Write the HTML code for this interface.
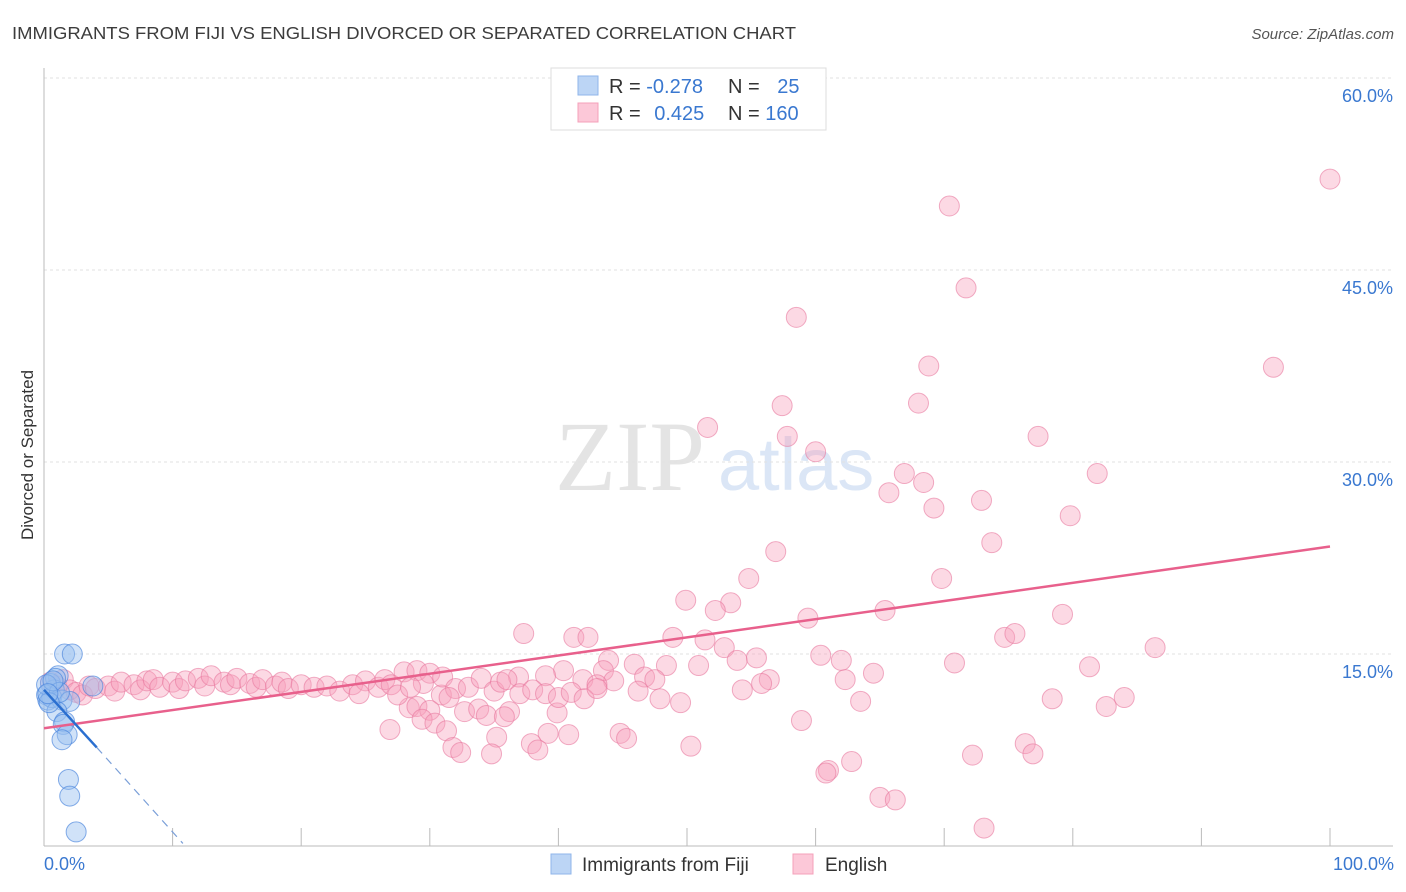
<!DOCTYPE html>
<html><head><meta charset="utf-8"><style>
body{margin:0;background:#fff;font-family:"Liberation Sans",sans-serif;}
svg{display:block}
</style></head><body>
<svg id="chart" width="1406" height="892">
<text x="12" y="39" font-size="17.5" fill="#3c3c3c" textLength="784" lengthAdjust="spacingAndGlyphs">IMMIGRANTS FROM FIJI VS ENGLISH DIVORCED OR SEPARATED CORRELATION CHART</text>
<text x="1394" y="39" font-size="15" fill="#555" font-style="italic" text-anchor="end">Source: ZipAtlas.com</text>
<text x="555" y="490" font-size="100" fill="#e4e4e4" font-family="Liberation Serif,serif">ZIP</text>
<text x="718" y="490" font-size="74" fill="#dbe6f6">atlas</text>
<text transform="translate(33,455) rotate(-90)" font-size="17" fill="#333" text-anchor="middle">Divorced or Separated</text>
<g id="grid"></g><g id="pts"></g><g id="lines"></g>
<g>
<rect x="551" y="68" width="275" height="62" fill="#fff" stroke="#ddd"/>
<rect x="578" y="76" width="20" height="19" fill="#bcd5f5" stroke="#8fb5ea"/>
<rect x="578" y="103" width="20" height="19" fill="#fcc8d8" stroke="#f4a0ba"/>
<text x="609" y="93" font-size="20" fill="#333">R = <tspan fill="#3a78d0">-0.278</tspan></text>
<text x="728" y="93" font-size="20" fill="#333">N = <tspan fill="#3a78d0" dx="12">25</tspan></text>
<text x="609" y="120" font-size="20" fill="#333">R = <tspan fill="#3a78d0" dx="8">0.425</tspan></text>
<text x="728" y="120" font-size="20" fill="#333">N = <tspan fill="#3a78d0">160</tspan></text>
</g>
<g>
<rect x="551" y="854" width="20" height="20" fill="#bcd5f5" stroke="#8fb5ea"/>
<text x="582" y="871" font-size="19" fill="#333">Immigrants from Fiji</text>
<rect x="793" y="854" width="20" height="20" fill="#fcc8d8" stroke="#f4a0ba"/>
<text x="825" y="871" font-size="19" fill="#333">English</text>
</g>
</svg>
<script>
const yTicks=[15,30,45,60];
const yTickLabels=["15.0%","30.0%","45.0%","60.0%"];
const xTickValues=[0,10,20,30,40,50,60,70,80,90,100];
const xEndLabels=["0.0%","100.0%"];
const fijiX=[1.6,2.2,1.1,0.5,0.8,0.2,0.3,0.6,1.4,2.0,1.0,1.6,1.5,1.8,1.4,1.9,2.0,2.5,3.8,0.9,0.2,1.2,0.4,0.7,0.3];
const fijiY=[15.0,15.0,13.3,12.7,12.2,11.8,11.4,11.6,11.4,11.3,10.5,9.7,9.5,8.7,8.3,5.2,3.9,1.1,12.5,13.1,12.6,12.0,11.2,12.9,11.9];
const engX=[100,70.4,71.7,58.5,68.8,95.6,68.0,57.4,51.6,57.8,77.3,60.0,66.9,81.9,68.4,65.7,72.9,69.2,79.8,73.7,56.9,54.8,69.8,49.9,53.4,52.2,65.4,59.4,79.2,37.3,41.2,42.3,43.9,48.9,51.4,52.9,74.7,75.5,86.4,60.4,62.0,53.9,55.4,45.9,48.4,50.9,40.4,70.8,81.3,64.5,36.9,39.0,41.9,43.5,44.3,46.7,47.5,56.4,62.3,43.0,46.2,54.3,55.8,47.9,49.5,63.5,78.4,84.0,82.6,30.9,28.4,29.0,30.0,32.7,33.8,34.4,36.2,35.8,39.9,29.4,30.4,58.9,26.9,31.3,35.2,39.2,40.8,44.8,45.3,37.9,31.8,32.4,34.8,38.4,50.3,76.3,76.9,72.2,62.8,61.0,60.8,65.0,66.2,73.1,
0.5,1,1.5,2,2.5,3,3.5,4,5,5.5,6,7,7.5,8,8.5,9,10,10.5,11,12,12.5,13,14,14.5,15,16,16.5,17,18,18.5,19,20,21,22,23,24,25,26,26.5,27,28,29,30,29.5,31,32,33,34,35,35.5,36,37,38,39,40,41,42,43,27.5,28.5,31.5,24.5];
const engY=[52.1,50.0,43.6,41.3,37.5,37.4,34.6,34.4,32.7,32.0,32.0,30.8,29.1,29.1,28.4,27.6,27.0,26.4,25.8,23.7,23.0,20.9,20.9,19.2,19.0,18.4,18.4,17.8,18.1,16.6,16.3,16.3,14.5,16.3,16.1,15.5,16.3,16.6,15.5,14.9,14.5,14.5,14.7,14.2,14.1,14.1,13.7,14.3,14.0,13.5,13.2,13.3,13.0,13.7,12.9,13.2,13.0,13.0,13.0,12.6,12.1,12.2,12.7,11.5,11.2,11.3,11.5,11.6,10.9,11.8,10.8,10.9,10.6,10.5,10.7,10.2,10.5,10.1,10.4,9.9,9.6,9.8,9.1,9.0,8.5,8.8,8.7,8.8,8.4,8.0,7.7,7.3,7.2,7.5,7.8,8.0,7.2,7.1,6.6,5.9,5.7,3.8,3.6,1.4,
12.8,12.5,13,12.2,12.0,11.8,12.5,12.3,12.5,12.1,12.8,12.6,12.2,12.9,13.0,12.4,12.8,12.3,12.9,13.1,12.5,13.3,12.8,12.6,13.1,12.7,12.4,13.0,12.5,12.8,12.3,12.6,12.4,12.5,12.1,12.6,12.9,12.4,13.0,12.6,13.6,13.7,13.5,12.7,13.2,12.3,12.4,13.1,12.1,12.8,13.0,11.9,12.2,11.9,11.6,12.0,11.5,12.3,11.8,12.4,11.6,11.9];
const fijiTrend=[0,12.2,4.1,7.7];
const fijiDash=[4.1,7.7,10.8,0.2];
const engTrend=[0,9.2,100,23.4];
const X0=44,XS=12.86,Y0=846,YS=12.8;
const sx=v=>X0+v*XS, sy=v=>Y0-v*YS;
const NS="http://www.w3.org/2000/svg";
function mk(tag,attrs,parent){const e=document.createElementNS(NS,tag);for(const k in attrs)e.setAttribute(k,attrs[k]);parent.appendChild(e);return e;}
const grid=document.getElementById('grid'),pts=document.getElementById('pts'),lines=document.getElementById('lines');
yTicks.forEach((t,i)=>{
 const l=mk('line',{x1:44,x2:1393,y1:sy(t),y2:sy(t),stroke:'#e2e2e2','stroke-dasharray':'3,3'},grid);
 
 
 const tx=mk('text',{x:1393,y:sy(t)+24,'font-size':18,fill:'#3a78d0','text-anchor':'end'},grid);
 tx.textContent=yTickLabels[i];
 
 
});
const ax=mk('line',{x1:44,x2:44,y1:68,y2:846,stroke:'#bbb'},grid);


const bx=mk('line',{x1:44,x2:1393,y1:846,y2:846,stroke:'#bbb'},grid);


xTickValues.forEach(v=>{
 const l=mk('line',{x1:sx(v),x2:sx(v),y1:828,y2:846,stroke:'#bbb'},grid);
 
 
});
const xl0=mk('text',{x:44,y:870,'font-size':18,fill:'#3a78d0'},grid);xl0.textContent=xEndLabels[0];


const xl1=mk('text',{x:1394,y:870,'font-size':18,fill:'#3a78d0','text-anchor':'end'},grid);xl1.textContent=xEndLabels[1];


engX.forEach((x,i)=>{
 const c=mk('circle',{cx:sx(x),cy:sy(engY[i]),r:10,fill:'rgba(247,160,188,0.4)',stroke:'rgba(232,120,158,0.6)','stroke-width':1},pts);
 
 
});
fijiX.forEach((x,i)=>{
 const c=mk('circle',{cx:sx(x),cy:sy(fijiY[i]),r:10,fill:'rgba(150,190,240,0.45)',stroke:'rgba(70,130,220,0.65)','stroke-width':1},pts);
 
 
});
const l1=mk('line',{x1:sx(engTrend[0]),y1:sy(engTrend[1]),x2:sx(engTrend[2]),y2:sy(engTrend[3]),stroke:'#e8608c','stroke-width':2.5},lines);


const l2=mk('line',{x1:sx(fijiTrend[0]),y1:sy(fijiTrend[1]),x2:sx(fijiTrend[2]),y2:sy(fijiTrend[3]),stroke:'#2a6fd0','stroke-width':2.5},lines);


const l3=mk('line',{x1:sx(fijiDash[0]),y1:sy(fijiDash[1]),x2:sx(fijiDash[2]),y2:sy(fijiDash[3]),stroke:'#7a9fd8','stroke-width':1.2,'stroke-dasharray':'8,6'},lines);


</script>
</body></html>
